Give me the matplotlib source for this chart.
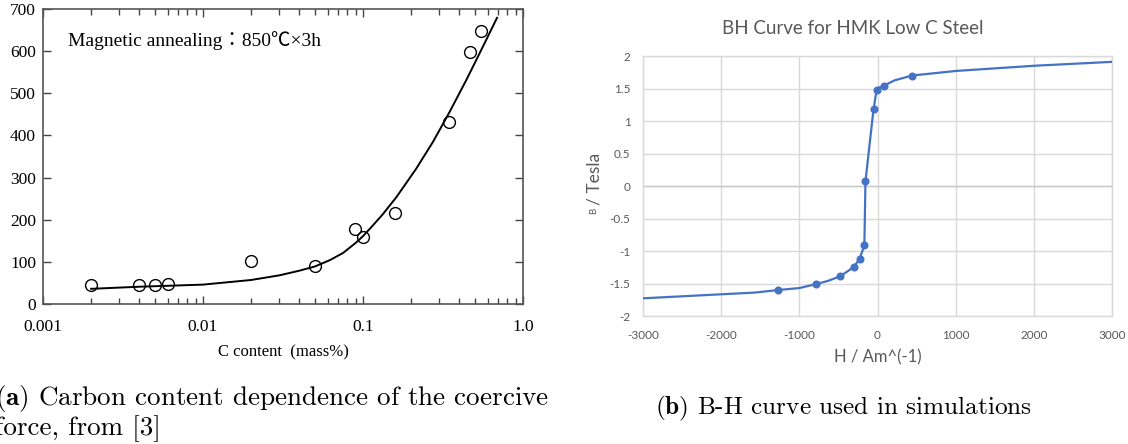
import matplotlib
matplotlib.use('Agg')
import matplotlib.pyplot as plt
import matplotlib.ticker as ticker

# (a) coercive force vs carbon content
carbon_pts = [0.002, 0.004, 0.005, 0.006, 0.02, 0.05, 0.089, 0.1, 0.158, 0.345, 0.469, 0.546]
coercive_pts = [45, 45, 45, 48, 103, 90, 178, 158, 217, 432, 599, 647]
carbon_fit = [0.002, 0.004, 0.01, 0.02, 0.03, 0.04, 0.05, 0.062, 0.075, 0.09, 0.1, 0.115,
              0.133, 0.162, 0.215, 0.274, 0.348, 0.443, 0.562, 0.688]
coercive_fit = [36, 41, 46, 57, 68, 79, 89, 104, 121, 145, 161, 186,
                213, 254, 321, 385, 456, 532, 611, 679]
a_xticks = [0.001, 0.01, 0.1, 1.0]
a_xlabels = ['0.001', '0.01', '0.1', '1.0']
a_yticks = [0, 100, 200, 300, 400, 500, 600, 700]

# (b) BH curve, markers and the drawn line
h_pts = [-1268, -790, -481, -298, -230, -168, -154, -51, -11, 78, 445]
b_pts = [-1.60, -1.51, -1.39, -1.24, -1.12, -0.915, 0.072, 1.18, 1.48, 1.54, 1.70]
h_line = [-3000, -2000, -1573, -1268, -1000, -790, -633, -481, -387, -298, -230,
          -168, -154, -51, -11, 20, 78, 217, 445, 1004, 2006, 3000]
b_line = [-1.728, -1.666, -1.64, -1.60, -1.57, -1.51, -1.46, -1.39, -1.316, -1.24, -1.12,
          -0.915, 0.072, 1.18, 1.48, 1.515, 1.54, 1.625, 1.70, 1.77, 1.85, 1.91]
b_xticks = [-3000, -2000, -1000, 0, 1000, 2000, 3000]
b_yticks = [-2, -1.5, -1, -0.5, 0, 0.5, 1, 1.5, 2]

plt.rcParams['mathtext.fontset'] = 'cm'
plt.rcParams['axes.unicode_minus'] = False

W, H = 1128, 444
fig = plt.figure(figsize=(W / 100, H / 100), dpi=100)

# ---------- left panel ----------
ax1 = fig.add_axes([43 / W, 1 - 304 / H, 480 / W, 295 / H])
ax1.plot(carbon_fit, coercive_fit, color='black', lw=1.4)
ax1.plot(carbon_pts, coercive_pts, 'o', mfc='none', mec='black', ms=8.5, mew=1.0)
ax1.set_xscale('log')
ax1.set_xlim(0.001, 1.0)
ax1.set_ylim(0, 700)
ax1.set_xticks(a_xticks, a_xlabels)
ax1.set_yticks(a_yticks)
ax1.xaxis.set_minor_locator(ticker.LogLocator(base=10, subs=range(2, 10)))
ax1.xaxis.set_minor_formatter(ticker.NullFormatter())
ax1.tick_params(which='both', direction='in', top=True, right=True,
                color='#444444', width=1.0)
ax1.tick_params(which='major', length=6)
ax1.tick_params(which='minor', length=4)
ax1.tick_params(axis='x', pad=11)
ax1.tick_params(axis='y', pad=5)
for lab in ax1.get_xticklabels() + ax1.get_yticklabels():
    lab.set_family('Liberation Serif')
    lab.set_fontsize(12.5)
for sp in ax1.spines.values():
    sp.set_color('#555555')
    sp.set_linewidth(1.2)
ax1.text(0.052, 0.892, 'Magnetic annealing：850℃×3h', transform=ax1.transAxes,
         va='center', ha='left', fontsize=14,
         family=['Liberation Serif', 'Noto Sans CJK JP'])
fig.text(283 / W, 1 - 352 / H, 'C content  (mass%)', ha='center', va='center',
         fontsize=12, family='Liberation Serif')

# ---------- right panel ----------
blue = '#4472c4'
grey = '#595959'
ax2 = fig.add_axes([643 / W, 1 - 316 / H, 469 / W, 260 / H])
ax2.plot(h_line, b_line, color=blue, lw=1.6, zorder=3)
ax2.plot(h_pts, b_pts, 'o', color=blue, ms=4.8, zorder=4)
ax2.set_xlim(-3000, 3000)
ax2.set_ylim(-2, 2)
ax2.set_xticks(b_xticks)
ax2.set_yticks(b_yticks)
ax2.yaxis.set_major_formatter(ticker.FuncFormatter(lambda v, p: f'{v:g}'))
ax2.grid(True, color='#d9d9d9', lw=1.0)
ax2.set_axisbelow(True)
ax2.axhline(0, color='#c8c8c8', lw=1.0, zorder=1)
for sp in ax2.spines.values():
    sp.set_color('#d9d9d9')
    sp.set_linewidth(1.0)
ax2.tick_params(length=0, colors=grey, labelsize=8.5)
ax2.tick_params(axis='x', pad=10)
ax2.tick_params(axis='y', pad=9)
for lab in ax2.get_xticklabels() + ax2.get_yticklabels():
    lab.set_family('Lato')

fig.text(853 / W, 1 - 28 / H, 'BH Curve for HMK Low C Steel', ha='center', va='center',
         fontsize=13.5, color=grey, family='Lato')
fig.text(878 / W, 1 - 357 / H, 'H / Am^(-1)', ha='center', va='center',
         fontsize=12, color=grey, family='Lato')
fig.text(594 / W, 1 - 211 / H, 'B', rotation=90, ha='center', va='center',
         fontsize=7, color=grey, family='Lato')
fig.text(594 / W, 1 - 179 / H, '/ Tesla', rotation=90, ha='center', va='center',
         fontsize=12.5, color=grey, family='Lato')

# ---------- captions ----------
fig.text(-5 / W, 1 - 398 / H, r'$\mathbf{(a)}$ Carbon content dependence of the coercive',
         ha='left', va='center', fontsize=19.5, family='cmr10')
fig.text(-5 / W, 1 - 429 / H, 'force, from [3]',
         ha='left', va='center', fontsize=19.5, family='cmr10')
fig.text(655 / W, 1 - 408 / H, r'$\mathbf{(b)}$ B-H curve used in simulations',
         ha='left', va='center', fontsize=18.2, family='cmr10')

fig.savefig('out.png', dpi=100)
